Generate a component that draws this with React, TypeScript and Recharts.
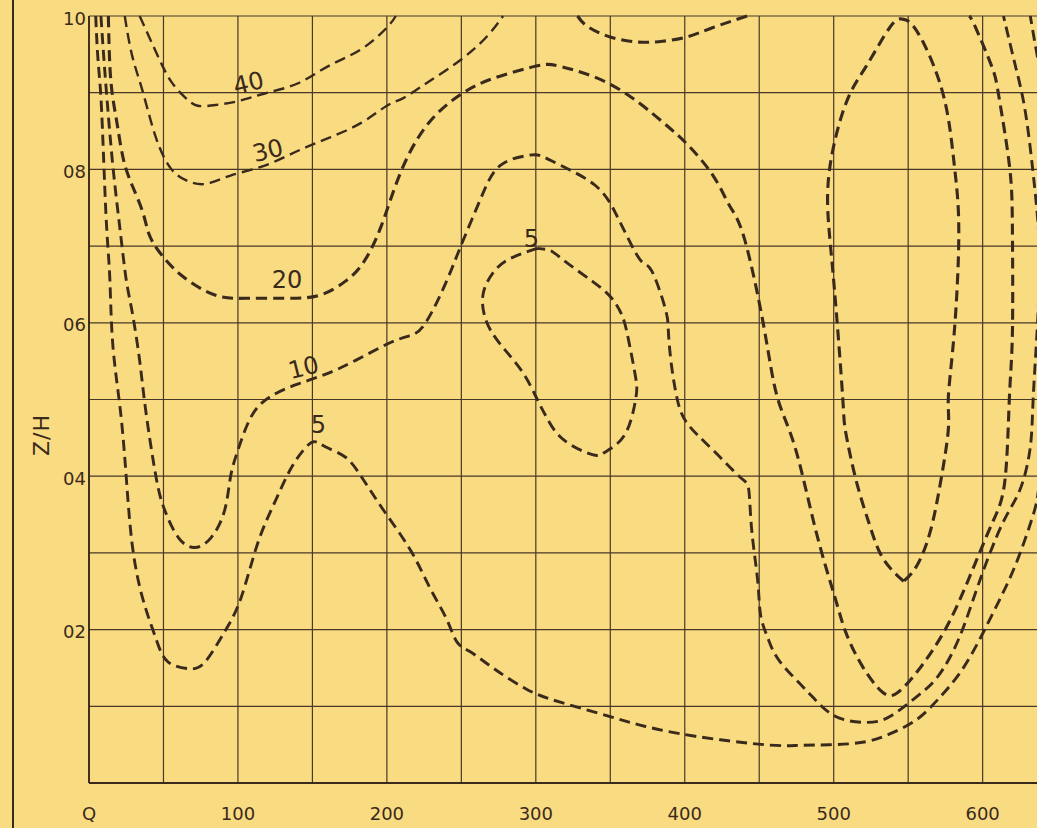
import { LineChart, Line, XAxis, YAxis, CartesianGrid, ReferenceDot } from "recharts";

// grid / tick values
const X_TICKS = [0, 50, 100, 150, 200, 250, 300, 350, 400, 450, 500, 550, 600, 650];
const X_LABEL_VALUES = [0, 100, 200, 300, 400, 500, 600];
const X_TICK_LABELS = ["Q", "100", "200", "300", "400", "500", "600"];
const Y_TICKS = [0, 0.1, 0.2, 0.3, 0.4, 0.5, 0.6, 0.7, 0.8, 0.9, 1.0];
const Y_LABEL_VALUES = [0.2, 0.4, 0.6, 0.8, 1.0];
const Y_TICK_LABELS = ["02", "04", "06", "08", "10"];

// contour lines, [x, z/H]
const C40 = [[34, 1.0], [45, 0.953], [55, 0.915], [65, 0.893], [73, 0.883], [85, 0.884], [100, 0.889], [118, 0.899], [140, 0.912], [161, 0.935], [183, 0.957], [200, 0.985], [206, 1.0]];
const C30 = [[24, 1.0], [29, 0.948], [36, 0.902], [45, 0.841], [55, 0.801], [65, 0.786], [78, 0.781], [95, 0.792], [118, 0.805], [140, 0.824], [161, 0.841], [183, 0.861], [200, 0.883], [211, 0.893], [227, 0.913], [249, 0.942], [267, 0.973], [278, 1.0]];
const C20 = [[13, 1.0], [14, 0.935], [16, 0.893], [19, 0.858], [23, 0.814], [29, 0.779], [36, 0.745], [40, 0.717], [47, 0.693], [62, 0.662], [85, 0.636], [107, 0.632], [133, 0.632], [155, 0.636], [172, 0.654], [184, 0.678], [196, 0.725], [209, 0.795], [227, 0.858], [249, 0.897], [272, 0.919], [301, 0.935], [317, 0.934], [351, 0.91], [385, 0.862], [402, 0.832], [419, 0.792], [430, 0.753], [440, 0.71], [453, 0.596], [462, 0.504], [474, 0.438], [488, 0.329], [501, 0.241], [508, 0.197], [519, 0.153], [533, 0.118], [543, 0.118], [556, 0.145], [574, 0.197], [590, 0.263], [606, 0.337], [615, 0.395], [618, 0.504], [620, 0.588], [620, 0.719], [618, 0.805], [611, 0.894], [606, 0.935], [595, 0.986], [591, 1.0]];
const C10 = [[8, 1.0], [10, 0.944], [12, 0.894], [16, 0.805], [21, 0.719], [25, 0.656], [29, 0.614], [34, 0.551], [38, 0.487], [45, 0.399], [51, 0.355], [60, 0.32], [71, 0.307], [82, 0.32], [91, 0.355], [95, 0.399], [100, 0.434], [109, 0.478], [122, 0.504], [140, 0.52], [159, 0.533], [179, 0.551], [201, 0.573], [215, 0.583], [226, 0.6], [240, 0.654], [249, 0.697], [263, 0.762], [276, 0.805], [294, 0.818], [303, 0.818], [317, 0.805], [340, 0.779], [353, 0.745], [362, 0.71], [371, 0.68], [378, 0.667], [387, 0.618], [389, 0.589], [391, 0.546], [395, 0.5], [402, 0.468], [419, 0.434], [437, 0.399], [443, 0.382], [445, 0.329], [449, 0.263], [451, 0.218], [456, 0.188], [464, 0.158], [483, 0.118], [501, 0.087], [522, 0.079], [538, 0.087], [556, 0.113], [570, 0.139], [584, 0.188], [597, 0.258], [613, 0.337], [625, 0.382], [632, 0.438], [634, 0.504], [637, 0.605], [638, 0.697], [635, 0.775], [629, 0.871], [622, 0.935], [614, 1.0]];
const C5 = [[4.5, 1.0], [6, 0.944], [8, 0.894], [10, 0.805], [12, 0.719], [14, 0.657], [16, 0.571], [21, 0.487], [25, 0.399], [29, 0.311], [36, 0.241], [45, 0.188], [53, 0.158], [67, 0.149], [78, 0.158], [91, 0.197], [102, 0.241], [113, 0.311], [124, 0.363], [135, 0.408], [144, 0.434], [151, 0.445], [159, 0.438], [172, 0.425], [183, 0.399], [198, 0.355], [216, 0.303], [229, 0.254], [240, 0.214], [247, 0.184], [256, 0.171], [272, 0.149], [294, 0.122], [317, 0.105], [351, 0.086], [373, 0.074], [407, 0.061], [453, 0.05], [476, 0.049], [499, 0.05], [522, 0.054], [540, 0.066], [556, 0.083], [570, 0.109], [588, 0.153], [606, 0.218], [622, 0.284], [634, 0.35], [638, 0.389], [644, 0.504], [646, 0.697], [643, 0.867], [638, 0.935], [632, 1.0]];
const C5_LOOP = [[301, 0.697], [283, 0.684], [272, 0.667], [265, 0.641], [265, 0.614], [270, 0.589], [280, 0.563], [292, 0.533], [301, 0.5], [308, 0.474], [319, 0.447], [338, 0.428], [347, 0.432], [360, 0.455], [367, 0.5], [367, 0.529], [362, 0.58], [358, 0.609], [351, 0.632], [338, 0.654], [319, 0.681], [310, 0.694], [301, 0.697]];
const RIGHT_LOOP = [[547, 0.263], [533, 0.293], [524, 0.337], [515, 0.395], [508, 0.458], [506, 0.504], [501, 0.632], [497, 0.719], [497, 0.797], [508, 0.885], [522, 0.935], [538, 0.986], [546, 0.996], [551, 0.992], [560, 0.966], [574, 0.894], [581, 0.805], [584, 0.719], [581, 0.589], [577, 0.504], [577, 0.462], [572, 0.395], [565, 0.329], [556, 0.284], [547, 0.263]];
const TOP_ARC = [[328, 1.0], [335, 0.986], [351, 0.972], [369, 0.966], [385, 0.967], [402, 0.973], [419, 0.985], [442, 1.0]];

// contour labels
const LABEL_TEXT = ["40", "30", "20", "10", "5", "5"];
const LABEL_X = [107, 120, 133, 144, 154, 297];
const LABEL_Y = [0.913, 0.825, 0.657, 0.542, 0.468, 0.71];
const LABEL_ANGLE = [-14, -14, 0, -14, 0, 0];

const PAPER = "#f9db82";
const INK = "#3a2a1c";
const GRID = "#4a3826";
const FONT = '"DejaVu Sans", sans-serif';

const toPts = (arr: number[][]) => arr.map(([x, y]) => ({ x, y }));

const CONTOURS = [
  { key: "c40", data: toPts(C40), w: 2.4 },
  { key: "c30", data: toPts(C30), w: 2.4 },
  { key: "c20", data: toPts(C20), w: 3.1 },
  { key: "c10", data: toPts(C10), w: 2.9 },
  { key: "c5", data: toPts(C5), w: 2.9 },
  { key: "c5loop", data: toPts(C5_LOOP), w: 2.9 },
  { key: "rloop", data: toPts(RIGHT_LOOP), w: 3.1 },
  { key: "arc", data: toPts(TOP_ARC), w: 3.1 },
];

function XTick(props: any) {
  const { x, y, payload } = props;
  const i = X_LABEL_VALUES.indexOf(payload.value);
  if (i < 0) return <g />;
  return (
    <text x={x} y={y + 22} textAnchor="middle" dominantBaseline="central" fill={INK} fontSize={18} fontFamily={FONT}>
      {X_TICK_LABELS[i]}
    </text>
  );
}

function YTick(props: any) {
  const { x, y, payload } = props;
  const i = Y_LABEL_VALUES.findIndex((v) => Math.abs(v - payload.value) < 1e-6);
  if (i < 0) return <g />;
  return (
    <text x={x} y={y + 2} textAnchor="end" dominantBaseline="central" fill={INK} fontSize={18} fontFamily={FONT}>
      {Y_TICK_LABELS[i]}
    </text>
  );
}

export default function App() {
  return (
    <div style={{ position: "fixed", left: 0, top: 0, width: 1037, height: 828, overflow: "hidden", background: PAPER }}>
      <div style={{ position: "absolute", left: 12, top: 0, width: 2, height: 828, background: INK }} />
      <LineChart width={1082} height={828} margin={{ top: 16, right: 10, bottom: 0, left: 29 }}>
        <CartesianGrid stroke={GRID} strokeWidth={1.2} />
        <XAxis
          dataKey="x"
          type="number"
          domain={[0, 660]}
          ticks={X_TICKS}
          tick={<XTick />}
          tickLine={false}
          axisLine={{ stroke: INK, strokeWidth: 1.8 }}
          height={45}
          interval={0}
        />
        <YAxis
          type="number"
          domain={[0, 1]}
          ticks={Y_TICKS}
          tick={<YTick />}
          tickLine={false}
          tickSize={0}
          tickMargin={3}
          axisLine={{ stroke: INK, strokeWidth: 1.8 }}
          width={60}
          interval={0}
        />
        {CONTOURS.map((c) => (
          <Line
            key={c.key}
            data={c.data}
            dataKey="y"
            type="natural"
            stroke={INK}
            strokeWidth={c.w}
            strokeDasharray="11 6"
            dot={false}
            activeDot={false}
            isAnimationActive={false}
          />
        ))}
        {LABEL_TEXT.map((t, i) => (
          <ReferenceDot
            key={i}
            x={LABEL_X[i]}
            y={LABEL_Y[i]}
            r={0}
            fill="none"
            stroke="none"
            label={{ value: t, position: "center", fill: INK, fontSize: 24, fontFamily: FONT, angle: LABEL_ANGLE[i] }}
          />
        ))}
      </LineChart>
      <div
        style={{
          position: "absolute",
          left: 41,
          top: 435,
          transform: "translate(-50%, -50%) rotate(-90deg)",
          fontFamily: FONT,
          fontSize: 22,
          letterSpacing: 1,
          color: INK,
          whiteSpace: "nowrap",
        }}
      >
        Z/H
      </div>
    </div>
  );
}
